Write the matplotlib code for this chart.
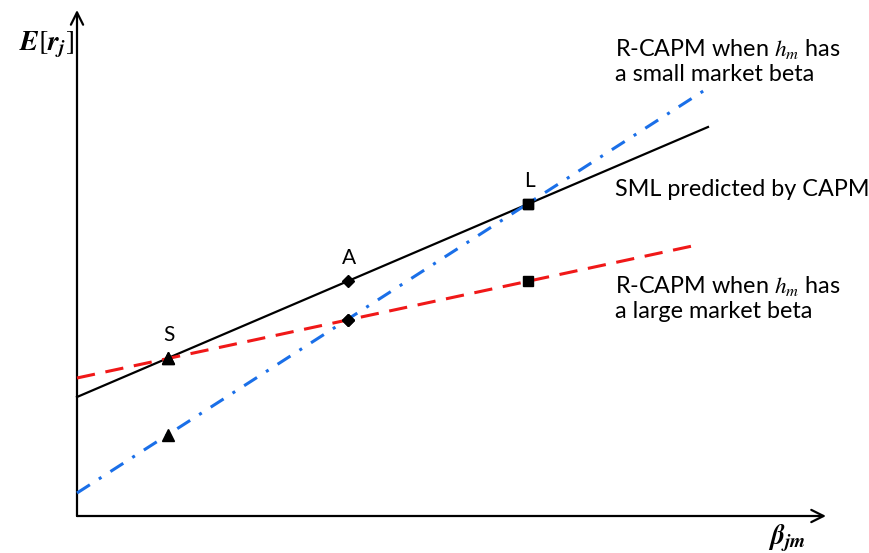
import matplotlib.pyplot as plt

plt.rcParams['font.family'] = ['Lato', 'DejaVu Sans']
plt.rcParams['mathtext.fontset'] = 'stix'

# beta positions of the three portfolios (S, A, L)
betas = [0.91, 2.71, 4.51]
point_names = ['S', 'A', 'L']

# line end points (beta, expected return)
sml_x = [0.0, 6.31]
sml_y = [1.19, 3.89]
large_x = [0.0, 6.20]
large_y = [1.38, 2.71]
small_x = [0.0, 6.31]
small_y = [0.23, 4.28]

# expected returns at S, A, L
sml_pts = [1.58, 2.35, 3.12]
large_pts = [1.58, 1.96, 2.35]
small_pts = [0.81, 1.96, 3.12]
markers = ['^', 'D', 's']
marker_sizes = [8, 6, 7.5]

fig = plt.figure(figsize=(8.7, 5.53), dpi=100)
ax = fig.add_axes([0, 0, 1, 1])
ax.set_xlim(-0.77, 7.93)
ax.set_ylim(-0.37, 5.16)
ax.axis('off')

# axes with arrow heads
arrow = dict(arrowstyle='->', lw=1.6, color='black', mutation_scale=22, shrinkA=0, shrinkB=0)
ax.annotate('', xy=(7.49, 0), xytext=(0, 0), arrowprops=arrow)
ax.annotate('', xy=(0, 5.06), xytext=(0, 0), arrowprops=arrow)

# lines
ax.plot(sml_x, sml_y, color='black', lw=1.6, zorder=2)
ax.plot(large_x, large_y, color='#f01818', lw=2.2, dashes=(6, 3.5), zorder=3)
ax.plot(small_x, small_y, color='#1a6fe8', lw=2.2, dashes=(5, 3.5, 1, 3.5), zorder=3)

# markers
for b, s, l, w, m, ms in zip(betas, sml_pts, large_pts, small_pts, markers, marker_sizes):
    ax.plot([b, b, b], [s, l, w], linestyle='none', marker=m, ms=ms, color='black', zorder=5)

for b, s, name in zip(betas, sml_pts, point_names):
    ax.text(b + 0.01, s + 0.13, name, fontsize=15, ha='center', va='bottom')

# annotations
txt = dict(fontsize=16.8, ha='left', va='center', linespacing=1.2)
ax.text(5.38, 4.55, 'R-CAPM when $h_m$ has\na small market beta', **txt)
ax.text(5.38, 3.26, 'SML predicted by CAPM', **txt)
ax.text(5.38, 2.18, 'R-CAPM when $h_m$ has\na large market beta', **txt)

# axis labels
ax.text(-0.30, 4.71, r'$\boldsymbol{E}[\boldsymbol{r}_{\boldsymbol{j}}]$', fontsize=20,
        ha='center', va='center')
ax.text(7.10, -0.22, r'$\boldsymbol{\beta}_{\boldsymbol{jm}}$', fontsize=20,
        ha='center', va='center')

fig.savefig('out.png', dpi=100)
